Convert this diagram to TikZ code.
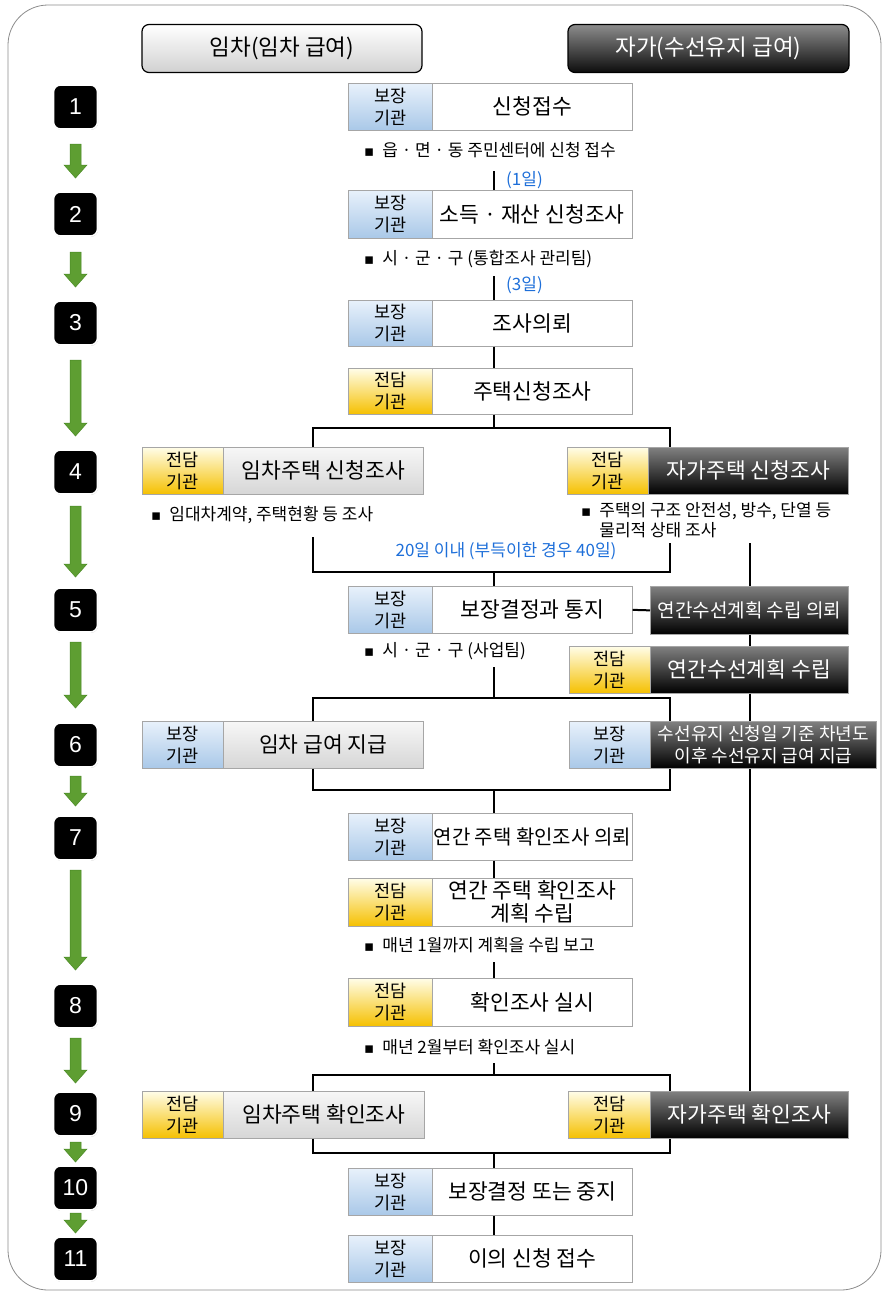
\documentclass[tikz,border=0pt]{standalone}
\usepackage{fontspec}
\setmainfont{Noto Sans CJK KR}
\newfontfamily\numfont{Liberation Sans}
\newfontfamily\symfont{DejaVu Sans}
\usetikzlibrary{shadows}
\definecolor{blueT}{HTML}{E8F1FB}
\definecolor{blueB}{HTML}{A9C8E8}
\definecolor{yelT}{HTML}{FFFDE8}
\definecolor{yelB}{HTML}{F5C000}
\definecolor{grayT}{HTML}{F7F7F7}
\definecolor{grayB}{HTML}{D6D6D6}
\definecolor{darkT}{HTML}{808080}
\definecolor{darkB}{HTML}{000000}
\definecolor{cellline}{HTML}{A6A6A6}
\definecolor{dayblue}{HTML}{1E6FD9}
\definecolor{gA}{HTML}{5E9E32}
\definecolor{gB}{HTML}{A5D46E}
\definecolor{gD}{HTML}{4A8A25}
\definecolor{framec}{HTML}{8C8C8C}
\newcommand\fmain{\fontsize{21.5}{23}\selectfont}
\newcommand\flab{\fontsize{17.5}{22}\selectfont}
\newcommand\fbul{\fontsize{17}{20}\selectfont}
\newcommand\fhead{\fontsize{22.5}{24}\selectfont}
\newcommand\fsm{\fontsize{18}{22.5}\selectfont}
\newcommand\fmid{\fontsize{19}{22}\selectfont}
\newcommand\fseven{\fontsize{20}{22}\selectfont}
\newcommand\blt{{\symfont\fontsize{15}{15}\selectfont ▪}\hspace{8pt}}
\newcommand\tc[9]{%
  \node (#1-l) at (#2,#5) [#7, minimum width={#3-#2}, minimum height={#6-#5}];
  \node[#8, minimum width={#4-#3}, minimum height={#6-#5}] (#1) at (#3,#5) {#9};}
\newcommand\garrow[3]{%
  \shade[left color=gA, middle color=gB, right color=gA, draw=gD, line width=0.5pt]
  (#1-5.5,#2) -- (#1+5.5,#2) -- (#1+5.5,#3-13) -- (#1+11.5,#3-13) -- (#1,#3)
  -- (#1-11.5,#3-13) -- (#1-5.5,#3-13) -- cycle;}
\begin{document}
\begin{tikzpicture}[x=1pt,y=-1pt,
  cellbase/.style={draw=cellline, line width=0.7pt, inner sep=0pt, anchor=north west, align=center},
  bluecell/.style={cellbase, top color=blueT, bottom color=blueB, font=\flab, node contents={보장\\기관}},
  yelcell/.style={cellbase, top color=yelT, bottom color=yelB, font=\flab, node contents={전담\\기관}},
  whitecell/.style={cellbase, fill=white, font=\fmain},
  graycell/.style={cellbase, top color=grayT, bottom color=grayB, font=\fmain},
  darkcell/.style={cellbase, top color=darkT, bottom color=darkB, text=white, font=\fmain},
  headL/.style={draw=black, line width=1.2pt, rounded corners=7pt, top color=white, bottom color=black!18,
    minimum width=280, minimum height=48, inner sep=0pt, font=\fhead},
  headR/.style={draw=black, line width=1.2pt, rounded corners=7pt, top color=black!45, bottom color=black!95,
    text=white, minimum width=281, minimum height=48, inner sep=0pt, font=\fhead},
  badge/.style={fill=black, draw=white, line width=1.6pt, rounded corners=7pt, minimum width=44,
    minimum height=44, inner sep=0pt, text=white, font=\numfont\fontsize{23}{24}\selectfont,
    drop shadow={shadow xshift=0.5pt, shadow yshift=-0.8pt, opacity=0.45, fill=gray}},
  bul/.style={font=\fbul, anchor=west, inner sep=0pt, align=left},
  days/.style={font=\fbul, text=dayblue, inner sep=0pt},
  conn/.style={line width=2pt, black}]
\useasboundingbox (0,0) rectangle (885,1294);
\draw[framec, line width=0.8pt, rounded corners=40pt] (8,5) rectangle (881,1290);
% headers
\node[headL] (hL) at (282,48.5) {임차(임차 급여)};
\node[headR] (hR) at (708.5,48.5) {자가(수선유지 급여)};
% step badges
\node[badge] (s1) at (75.5,107) {1};
\node[badge] (s2) at (75.5,214) {2};
\node[badge] (s3) at (75.5,323) {3};
\node[badge] (s4) at (75.5,472) {4};
\node[badge] (s5) at (75.5,610) {5};
\node[badge] (s6) at (75.5,745) {6};
\node[badge] (s7) at (75.5,838) {7};
\node[badge] (s8) at (75.5,1006) {8};
\node[badge] (s9) at (75.5,1114) {9};
\node[badge] (s10) at (75.5,1188) {10};
\node[badge] (s11) at (75.5,1259) {11};
% green arrows
\garrow{75.5}{144}{178}
\garrow{75.5}{252}{287}
\garrow{75.5}{360}{436}
\garrow{75.5}{506}{577}
\garrow{75.5}{642}{708}
\garrow{75.5}{776}{806}
\garrow{75.5}{870}{970}
\garrow{75.5}{1038}{1083}
\garrow{75.5}{1142}{1162}
\garrow{75.5}{1213}{1233}
% boxes
\tc{B1}{348}{432}{632}{83}{130}{bluecell}{whitecell}{신청접수}
\tc{B2}{348}{432}{632}{190}{238}{bluecell}{whitecell}{소득 · 재산 신청조사}
\tc{B3}{348}{432}{632}{300}{346}{bluecell}{whitecell}{조사의뢰}
\tc{B3b}{348}{432}{632}{368}{414}{yelcell}{whitecell}{주택신청조사}
\tc{B4L}{142}{223}{423}{447}{494}{yelcell}{graycell}{임차주택 신청조사}
\tc{B4R}{567}{648}{848}{447}{494}{yelcell}{darkcell}{자가주택 신청조사}
\tc{B5}{348}{432}{632}{586}{633}{bluecell}{whitecell}{보장결정과 통지}
\node[darkcell, font=\fmid, minimum width=198, minimum height=48] (B5R) at (650,586) {연간수선계획 수립 의뢰};
\tc{B5b}{569}{650}{848}{646}{693}{yelcell}{darkcell}{연간수선계획 수립}
\tc{B6L}{142}{223}{423}{721}{768}{bluecell}{graycell}{임차 급여 지급}
\tc{B6R}{569}{650}{876}{721}{768}{bluecell}{darkcell,font=\fsm}{수선유지 신청일 기준 차년도\\이후 수선유지 급여 지급}
\tc{B7}{348}{432}{632}{813}{860}{bluecell}{whitecell,font=\fseven}{연간 주택 확인조사 의뢰}
\tc{B7b}{348}{432}{632}{878}{926}{yelcell}{whitecell}{연간 주택 확인조사\\계획 수립}
\tc{B8}{348}{432}{632}{978}{1026}{yelcell}{whitecell}{확인조사 실시}
\tc{B9L}{142}{223}{424}{1091}{1138}{yelcell}{graycell}{임차주택 확인조사}
\tc{B9R}{568}{650}{848}{1091}{1138}{yelcell}{darkcell}{자가주택 확인조사}
\tc{B10}{348}{432}{632}{1168}{1215}{bluecell}{whitecell}{보장결정 또는 중지}
\tc{B11}{348}{432}{632}{1235}{1282}{bluecell}{whitecell}{이의 신청 접수}
% bullet notes
\node[bul] (n1) at (364,150) {\blt 읍 · 면 · 동 주민센터에 신청 접수};
\node[bul] (n2) at (364,259) {\blt 시 · 군 · 구 (통합조사 관리팀)};
\node[bul] (n4l) at (151,515) {\blt 임대차계약, 주택현황 등 조사};
\node[bul] (n4r) at (581,520) {\blt 주택의 구조 안전성, 방수, 단열 등\\\hphantom{\blt}물리적 상태 조사};
\node[bul] (n5) at (364,651) {\blt 시 · 군 · 구 (사업팀)};
\node[bul] (n7) at (364,945) {\blt 매년 1월까지 계획을 수립 보고};
\node[bul] (n8) at (364,1047) {\blt 매년 2월부터 확인조사 실시};
% day labels
\node[days, anchor=west] (d1) at (506,180) {(1일)};
\node[days, anchor=west] (d2) at (506,285) {(3일)};
\node[days] (d3) at (506,551) {20일 이내 (부득이한 경우 40일)};
% column coordinates
\coordinate (cx) at (494,0);
\coordinate (lx) at (313,0);
\coordinate (rx) at (670,0);
\coordinate (fx) at (750,0);
% connectors
\coordinate (a1) at (494,171);
\draw[conn] (a1) -- (a1 |- B2.north);
\coordinate (a2) at (494,276);
\draw[conn] (a2) -- (a2 |- B3.north);
\draw[conn] (B3.south -| cx) -- (B3b.north -| cx);
\coordinate (k4) at (494,428);
\draw[conn] (B3b.south -| cx) -- (k4);
\draw[conn] (B4L.north -| lx) |- (k4) -| (B4R.north -| rx);
\coordinate (m4l) at (313,537);
\coordinate (m4r) at (670,543);
\coordinate (k4b) at (494,572);
\draw[conn] (m4l) |- (k4b) -| (m4r);
\draw[conn] (k4b) -- (k4b |- B5.north);
\draw[conn] (B5.east) -- (B5R.west);
\coordinate (f0) at (750,543);
\draw[conn] (f0) -- (f0 |- B5R.north);
\draw[conn] (B5R.south -| fx) -- (B5b.north -| fx);
\draw[conn] (B5b.south -| fx) -- (B6R.north -| fx);
\draw[conn] (B6R.south -| fx) -- (B9R.north -| fx);
\coordinate (a5) at (494,667);
\coordinate (k6) at (494,698);
\draw[conn] (a5) -- (k6);
\draw[conn] (B6L.north -| lx) |- (k6) -| (B6R.north -| rx);
\coordinate (k6b) at (494,790);
\draw[conn] (B6L.south -| lx) |- (k6b) -| (B6R.south -| rx);
\draw[conn] (k6b) -- (k6b |- B7.north);
\draw[conn] (B7.south -| cx) -- (B7b.north -| cx);
\coordinate (a7) at (494,962);
\draw[conn] (a7) -- (a7 |- B8.north);
\coordinate (a8) at (494,1063);
\coordinate (k9) at (494,1075);
\draw[conn] (a8) -- (k9);
\draw[conn] (B9L.north -| lx) |- (k9) -| (B9R.north -| rx);
\coordinate (k9b) at (494,1153);
\draw[conn] (B9L.south -| lx) |- (k9b) -| (B9R.south -| rx);
\draw[conn] (k9b) -- (k9b |- B10.north);
\draw[conn] (B10.south -| cx) -- (B11.north -| cx);
\end{tikzpicture}
\end{document}
